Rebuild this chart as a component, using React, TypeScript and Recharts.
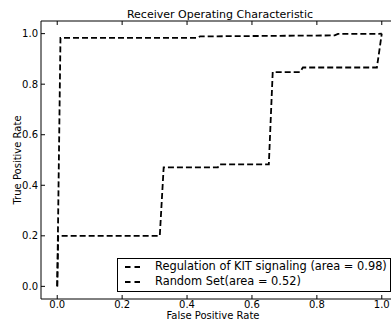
import React from 'react';
import { LineChart, Line, XAxis, YAxis, Legend } from 'recharts';

const KIT_NAME = 'Regulation of KIT signaling (area = 0.98)';
const RAND_NAME = 'Random Set(area = 0.52)';
const SERIES_ORDER = [KIT_NAME, RAND_NAME];

const KIT_FPR = [0.0, 0.01, 0.43, 0.44, 0.855, 0.865, 0.99, 1.0];
const KIT_TPR = [0.0, 0.983, 0.983, 0.989, 0.993, 0.999, 0.999, 1.0];

const RAND_FPR = [0.0, 0.003, 0.316, 0.328, 0.495, 0.5, 0.652, 0.664, 0.748, 0.757, 0.985, 1.0];
const RAND_TPR = [0.0, 0.2, 0.2, 0.471, 0.471, 0.483, 0.483, 0.848, 0.848, 0.866, 0.866, 1.0];

const TICKS = [0, 0.2, 0.4, 0.6, 0.8, 1.0];
const DOMAIN: [number, number] = [-0.05, 1.05];

const TITLE = 'Receiver Operating Characteristic';
const X_LABEL = 'False Positive Rate';
const Y_LABEL = 'True Positive Rate';

const kitData = KIT_FPR.map((x, i) => ({ x, y: KIT_TPR[i] }));
const randData = RAND_FPR.map((x, i) => ({ x, y: RAND_TPR[i] }));

const FONT = 'DejaVu Sans';
const W = 398;
const H = 327;
const DASH = '6 3';
const LW = 1.8;

const fmt = (v: number) => v.toFixed(1);
const tickStyle = { fontFamily: FONT, fontSize: 10, fill: '#000' };

function LegendBox(props: any) {
  const payload = [...(props.payload || [])].sort(
    (a: any, b: any) => SERIES_ORDER.indexOf(a.value) - SERIES_ORDER.indexOf(b.value)
  );
  return (
    <div
      style={{
        boxSizing: 'border-box',
        width: 274,
        height: 34,
        border: '1px solid #000',
        background: '#fff',
        fontFamily: FONT,
        fontSize: 11.4,
        color: '#000',
        position: 'relative',
      }}
    >
      {payload.map((p: any, i: number) => (
        <div
          key={i}
          style={{
            position: 'absolute',
            left: 7,
            top: i * 15,
            height: 15,
            display: 'flex',
            alignItems: 'center',
            whiteSpace: 'nowrap',
          }}
        >
          <svg width={16} height={4} style={{ display: 'block' }}>
            <line x1={0} y1={2} x2={16} y2={2} stroke={p.color} strokeWidth={LW} strokeDasharray="5.5 4" />
          </svg>
          <span style={{ marginLeft: 14, lineHeight: '15px' }}>{p.value}</span>
        </div>
      ))}
    </div>
  );
}

export default function App() {
  return (
    <div style={{ position: 'absolute', left: 0, top: 0, width: 391, height: 327, overflow: 'hidden', background: '#fff' }}>
      <LineChart width={W} height={H} margin={{ top: 20, right: 0, bottom: 0, left: 0 }}>
        <XAxis
          xAxisId="top"
          orientation="top"
          dataKey="x"
          type="number"
          domain={DOMAIN}
          ticks={TICKS}
          height={1}
          tick={() => <g />}
          tickSize={-4}
          axisLine={{ stroke: '#000', strokeWidth: 1 }}
          tickLine={{ stroke: '#000', strokeWidth: 1 }}
          allowDataOverflow
        />
        <XAxis
          dataKey="x"
          type="number"
          domain={DOMAIN}
          ticks={TICKS}
          tickFormatter={fmt}
          height={28}
          tickSize={-4}
          tickMargin={6}
          tick={tickStyle}
          axisLine={{ stroke: '#000', strokeWidth: 1 }}
          tickLine={{ stroke: '#000', strokeWidth: 1 }}
          allowDataOverflow
        />
        <YAxis
          dataKey="y"
          type="number"
          domain={DOMAIN}
          ticks={TICKS}
          tickFormatter={fmt}
          width={41}
          tickSize={-4}
          tickMargin={7}
          tick={tickStyle}
          axisLine={{ stroke: '#000', strokeWidth: 1 }}
          tickLine={{ stroke: '#000', strokeWidth: 1 }}
          allowDataOverflow
        />
        <Legend
          layout="vertical"
          align="center"
          verticalAlign="middle"
          content={<LegendBox />}
          wrapperStyle={{ left: 117, top: 258, width: 274, height: 34 }}
        />
        <Line
          data={kitData}
          dataKey="y"
          name={KIT_NAME}
          type="linear"
          stroke="#000"
          strokeWidth={LW}
          strokeDasharray={DASH}
          dot={false}
          activeDot={false}
          isAnimationActive={false}
        />
        <Line
          data={randData}
          dataKey="y"
          name={RAND_NAME}
          type="linear"
          stroke="#000"
          strokeWidth={LW}
          strokeDasharray={DASH}
          dot={false}
          activeDot={false}
          isAnimationActive={false}
        />
      </LineChart>
      <svg
        width={391}
        height={327}
        style={{ position: 'absolute', left: 0, top: 0, pointerEvents: 'none' }}
      >
        <text x={220} y={18} textAnchor="middle" fontFamily={FONT} fontSize={11} fill="#000">
          {TITLE}
        </text>
        <text x={213} y={318.5} textAnchor="middle" fontFamily={FONT} fontSize={10} fill="#000">
          {X_LABEL}
        </text>
        <text
          x={0}
          y={0}
          textAnchor="middle"
          fontFamily={FONT}
          fontSize={10}
          fill="#000"
          transform="translate(20.5,160) rotate(-90)"
        >
          {Y_LABEL}
        </text>
      </svg>
    </div>
  );
}
